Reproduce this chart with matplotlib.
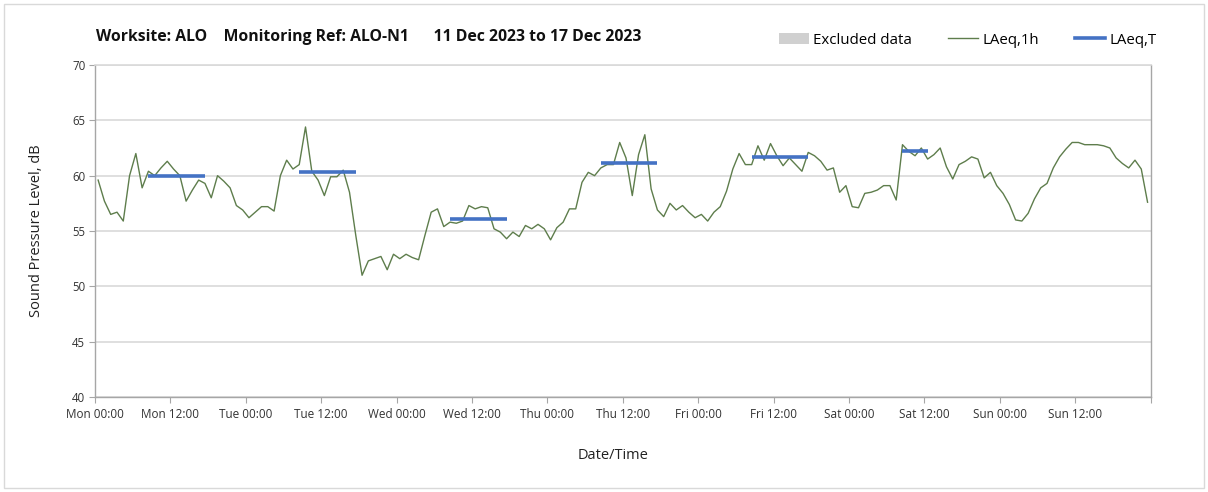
import matplotlib
matplotlib.use("Agg")
import matplotlib.pyplot as plt
from matplotlib.patches import Patch, Rectangle
from matplotlib.lines import Line2D
import numpy as np

# ---- data ----
laeq_1h = [
    59.6, 57.7, 56.5, 56.7, 55.9, 60.0, 62.0, 58.9, 60.4, 60.0, 60.7, 61.3,
    60.6, 60.0, 57.7, 58.7, 59.6, 59.3, 58.0, 60.0, 59.5, 58.9, 57.3, 56.9,
    56.2, 56.7, 57.2, 57.2, 56.8, 60.0, 61.4, 60.6, 61.0, 64.4, 60.4, 59.6,
    58.2, 59.9, 59.9, 60.5, 58.5, 54.6, 51.0, 52.3, 52.5, 52.7, 51.5, 52.9,
    52.5, 52.9, 52.6, 52.4, 54.6, 56.7, 57.0, 55.4, 55.8, 55.7, 55.9, 57.3,
    57.0, 57.2, 57.1, 55.2, 54.9, 54.3, 54.9, 54.5, 55.5, 55.2, 55.6, 55.2,
    54.2, 55.3, 55.8, 57.0, 57.0, 59.4, 60.3, 60.0, 60.7, 61.0, 61.0, 63.0,
    61.6, 58.2, 61.9, 63.7, 58.8, 56.9, 56.3, 57.5, 56.9, 57.3, 56.7, 56.2,
    56.5, 55.9, 56.7, 57.2, 58.6, 60.6, 62.0, 61.0, 61.0, 62.7, 61.4, 62.9,
    61.8, 60.9, 61.6, 61.0, 60.4, 62.1, 61.8, 61.3, 60.5, 60.7, 58.5, 59.1,
    57.2, 57.1, 58.4, 58.5, 58.7, 59.1, 59.1, 57.8, 62.8, 62.2, 61.8, 62.5,
    61.5, 61.9, 62.5, 60.8, 59.7, 61.0, 61.3, 61.7, 61.5, 59.8, 60.3, 59.1,
    58.4, 57.4, 56.0, 55.9, 56.6, 57.9, 58.9, 59.3, 60.7, 61.7, 62.4, 63.0,
    63.0, 62.8, 62.8, 62.8, 62.7, 62.5, 61.6, 61.1, 60.7, 61.4, 60.6, 57.6,
]
# LAeq,T periods: (start hour, end hour, level)
laeq_t_start = [8, 32, 56, 80, 104, 128]
laeq_t_end = [17, 41, 65, 89, 113, 132]
laeq_t_level = [60.0, 60.3, 56.1, 61.1, 61.7, 62.2]
excluded_periods = []  # none in this week

tick_labels = ["Mon 00:00", "Mon 12:00", "Tue 00:00", "Tue 12:00", "Wed 00:00",
               "Wed 12:00", "Thu 00:00", "Thu 12:00", "Fri 00:00", "Fri 12:00",
               "Sat 00:00", "Sat 12:00", "Sun 00:00", "Sun 12:00", ""]

title = "Worksite: ALO    Monitoring Ref: ALO-N1      11 Dec 2023 to 17 Dec 2023"

# ---- style ----
plt.rcParams['font.family'] = ['Open Sans', 'DejaVu Sans']
GREEN = "#5e7d4c"
BLUE = "#4472c4"
GRID = "#d9d9d9"
SPINE = "#a6a6a6"

fig = plt.figure(figsize=(12.08, 4.92), dpi=100)
ax = fig.add_axes([95/1208, 1 - 397/492, (1150.7 - 95)/1208, (397 - 65)/492])

hours = np.arange(len(laeq_1h)) + 0.5
ax.plot(hours, laeq_1h, color=GREEN, lw=1.0, zorder=3)
for s, e, lv in zip(laeq_t_start, laeq_t_end, laeq_t_level):
    ax.plot([s + 0.5, e + 0.5], [lv, lv], color=BLUE, lw=2.6, zorder=4,
            solid_capstyle='butt')
for s, e in excluded_periods:
    ax.axvspan(s, e, color="#d0d0d0", zorder=1)

ax.set_xlim(0, 168)
ax.set_ylim(40, 70)
ax.set_yticks(np.arange(40, 71, 5))
ax.set_xticks(np.arange(0, 169, 12))
ax.set_xticklabels(tick_labels)
ax.set_xticks(np.arange(0, 169, 24), minor=True)
ax.tick_params(axis='x', which='major', length=4, color=SPINE, labelsize=8.5,
               labelcolor="#333333", pad=4)
ax.tick_params(axis='x', which='minor', length=0)
ax.tick_params(axis='y', length=4, color=SPINE, labelsize=8.3,
               labelcolor="#333333", pad=3)
ax.grid(axis='y', which='major', color=GRID, lw=1.2, zorder=0)
ax.grid(axis='x', which='minor', color=GRID, lw=1.0, zorder=0)
ax.set_axisbelow(True)
for sp in ax.spines.values():
    sp.set_color(SPINE)
    sp.set_linewidth(1.0)
ax.spines['top'].set_color(GRID)
ax.spines['top'].set_linewidth(1.2)

ax.set_ylabel("Sound Pressure Level, dB", fontsize=10.5, color="#222222",
              labelpad=20)
ax.set_xlabel("Date/Time", fontsize=10.5, color="#222222", labelpad=22)
ax.xaxis.set_label_coords((613 - 95) / (1150.7 - 95), -0.155)

fig.text(96/1208, 1 - 37/492, title, fontsize=11.3, fontweight='bold',
         ha='left', va='center', color="#111111")

handles = [Patch(facecolor="#d0d0d0", edgecolor='none'),
           Line2D([], [], color=GREEN, lw=1.0),
           Line2D([], [], color=BLUE, lw=2.6)]
labels = ["Excluded data", "LAeq,1h", "LAeq,T"]
fig.legend(handles, labels, loc='center', bbox_to_anchor=(968/1208, 1 - 40/492),
           ncol=3, frameon=False, fontsize=10.8, handlelength=2.0,
           handletextpad=0.3, columnspacing=2.4, handleheight=0.8)

fig.add_artist(Rectangle((4/1208, 4/492), 1200/1208, 484/492,
                         transform=fig.transFigure, fill=False,
                         edgecolor="#d9d9d9", lw=1.0))

fig.savefig("out.png", dpi=100)
